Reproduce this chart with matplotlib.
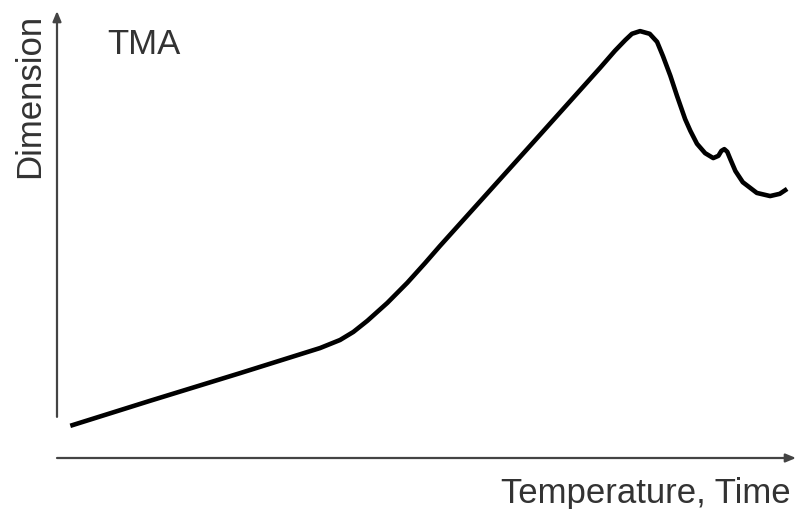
import matplotlib
matplotlib.use("Agg")
import matplotlib.pyplot as plt

# TMA curve, arbitrary units (temperature/time vs dimension, both 0-100)
temperature = [
    1.8, 12.6, 24.8, 32.9, 35.6, 38.3, 40.1, 42.0, 44.7, 47.4, 49.8, 51.8,
    64.0, 73.5, 75.5, 76.9, 77.8, 78.9, 80.2, 81.2, 82.0, 83.0, 83.9, 85.0,
    85.7, 86.6, 87.7, 88.8, 89.5, 89.9, 90.3, 90.7, 91.1, 91.8, 92.8, 94.7,
    96.5, 97.8, 98.8,
]
dimension = [
    7.2, 12.8, 19.0, 23.2, 24.6, 26.4, 28.2, 30.7, 34.7, 39.2, 43.6, 47.4,
    69.8, 87.3, 91.1, 93.5, 94.9, 95.5, 94.9, 93.1, 89.9, 85.5, 81.0, 75.8,
    73.2, 70.3, 68.2, 67.1, 67.6, 68.7, 69.1, 68.5, 66.9, 64.2, 61.7, 59.3,
    58.6, 59.1, 60.2,
]

TEXT_COLOR = "#333333"
AXIS_COLOR = "#444444"

plt.rcParams["font.family"] = ["Liberation Sans", "DejaVu Sans"]

fig = plt.figure(figsize=(7.96, 5.10), dpi=100)
ax = fig.add_axes([57 / 796, 51 / 510, 739 / 796, 447 / 510])
ax.set_xlim(0, 100)
ax.set_ylim(0, 100)
ax.axis("off")

ax.plot(temperature, dimension, color="black", linewidth=3.3,
        solid_capstyle="butt", solid_joinstyle="round")

# axis arrows
arrow = dict(arrowstyle="-|>,head_length=0.6,head_width=0.25",
             color=AXIS_COLOR, lw=1.6, shrinkA=0, shrinkB=0)
ax.annotate("", xy=(1.0, 0.0), xytext=(0.0, 0.0), xycoords="axes fraction",
            arrowprops=arrow, annotation_clip=False)
ax.annotate("", xy=(0.0, 1.0), xytext=(0.0, 0.092), xycoords="axes fraction",
            arrowprops=arrow, annotation_clip=False)

fig.text(107 / 796, 1 - 45 / 510, "TMA", fontsize=25, color=TEXT_COLOR,
         ha="left", va="center")
fig.text(30 / 796, 1 - 96 / 510, "Dimension", fontsize=25, color=TEXT_COLOR,
         rotation=90, ha="center", va="center")
fig.text(791 / 796, 1 - 503 / 510, "Temperature, Time", fontsize=25,
         color=TEXT_COLOR, ha="right", va="baseline")

fig.savefig("out.png", dpi=100)
